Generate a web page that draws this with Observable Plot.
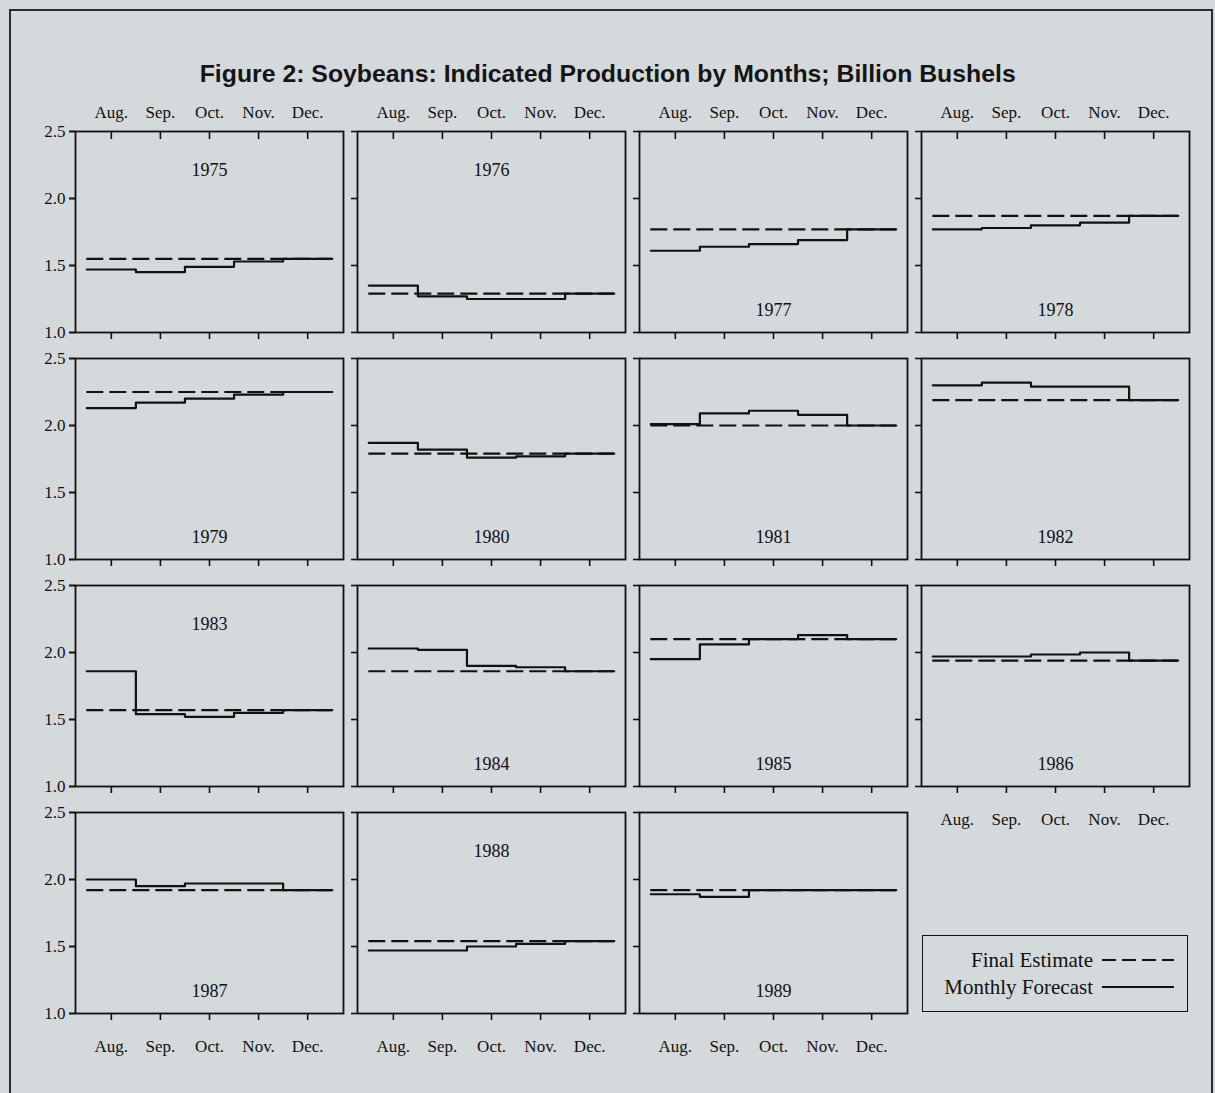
<!DOCTYPE html>
<html>
<head>
<meta charset="utf-8">
<script src="https://cdn.jsdelivr.net/npm/d3@7"></script>
<script src="https://cdn.jsdelivr.net/npm/@observablehq/plot@0.6"></script>
<style>
  html, body { margin: 0; padding: 0; }
  body { width: 1215px; height: 1093px; background: #d4d9dc; position: relative; overflow: hidden; font-family: "Liberation Serif", "Times New Roman", serif; color: #111; }
  #outer { position: absolute; left: 9px; top: 9px; width: 1200px; height: 1120px; border: 2px solid #2b2b2b; border-bottom: none; }
  #title { position: absolute; left: 0; width: 1215px; top: 60px; text-align: center; font-family: "Liberation Sans", Arial, sans-serif; font-weight: bold; font-size: 24px; color: #151515; white-space: nowrap; }
  #title span { display: inline-block; transform-origin: 50% 50%; }
  #chart { position: absolute; left: 0; top: 90px; }
  #legend { position: absolute; left: 922px; top: 935px; width: 266px; height: 77px; border: 1.6px solid #111; box-sizing: border-box; display: flex; flex-direction: column; justify-content: center; align-items: flex-end; padding-right: 13px; gap: 2px; font-size: 21px; }
  #legend .row { display: flex; align-items: center; gap: 9px; line-height: 25px; }
  #legend svg { display: block; }
</style>
</head>
<body>
<div id="outer"></div>
<div id="title">Figure 2: Soybeans: Indicated Production by Months; Billion Bushels</div>
<div id="chart"></div>
<div id="legend">
  <div class="row"><span>Final Estimate</span><svg width="72" height="6"><line x1="0" y1="3" x2="72" y2="3" stroke="#111" stroke-width="2" stroke-dasharray="14,6"></line></svg></div>
  <div class="row"><span>Monthly Forecast</span><svg width="72" height="6"><line x1="0" y1="3" x2="72" y2="3" stroke="#111" stroke-width="2"></line></svg></div>
</div>
<script>
// ---- data (billion bushels) ----
const months = ["Aug.", "Sep.", "Oct.", "Nov.", "Dec."];
const years = [1975, 1976, 1977, 1978, 1979, 1980, 1981, 1982, 1983, 1984, 1985, 1986, 1987, 1988, 1989];
const aug = [1.47, 1.35, 1.61, 1.77, 2.13, 1.87, 2.01, 2.30, 1.86, 2.03, 1.95, 1.97, 2.00, 1.47, 1.89];
const sep = [1.45, 1.27, 1.64, 1.78, 2.17, 1.82, 2.09, 2.32, 1.54, 2.02, 2.06, 1.97, 1.95, 1.47, 1.87];
const oct = [1.49, 1.25, 1.66, 1.80, 2.20, 1.76, 2.11, 2.29, 1.52, 1.90, 2.10, 1.985, 1.97, 1.50, 1.92];
const nov = [1.53, 1.25, 1.69, 1.82, 2.23, 1.77, 2.08, 2.29, 1.55, 1.89, 2.13, 2.00, 1.97, 1.52, 1.92];
const dec = [1.55, 1.29, 1.77, 1.87, 2.25, 1.79, 2.00, 2.19, 1.57, 1.86, 2.10, 1.94, 1.92, 1.54, 1.92];
const finalEstimate = [1.55, 1.29, 1.77, 1.87, 2.25, 1.79, 2.00, 2.19, 1.57, 1.86, 2.10, 1.94, 1.92, 1.54, 1.92];
const yearLabelAt = ["top", "top", "bottom", "bottom", "bottom", "bottom", "bottom", "bottom", "top", "bottom", "bottom", "bottom", "bottom", "top", "bottom"];
const yTicks = [1.0, 1.5, 2.0, 2.5];
const ncol = 4;

// ---- tables built from the arrays ----
const monthly = [aug, sep, oct, nov, dec];
const monthIdx = months.map((m, i) => i);
const forecastRows = [];
years.forEach((yr, j) => {
  const vals = monthly.map(m => m[j]);
  const pts = vals.concat([vals[vals.length - 1]]);
  pts.forEach((v, i) => forecastRows.push({year: yr, col: j % ncol, row: Math.floor(j / ncol), x: i - 0.5, value: v}));
});
const yearRows = years.map((yr, j) => ({
  year: yr, col: j % ncol, row: Math.floor(j / ncol),
  x1: monthIdx[0] - 0.5, x2: monthIdx[monthIdx.length - 1] + 0.5,
  value: finalEstimate[j], pos: yearLabelAt[j]
}));

const blank = () => "";
const chart = Plot.plot({
  width: 1215,
  height: 980,
  marginLeft: 74,
  marginRight: 26,
  marginTop: 41,
  marginBottom: 57,
  style: {background: "transparent", fontFamily: '"Liberation Serif", "Times New Roman", serif', fontSize: "17px", color: "#111", overflow: "visible"},
  fx: {axis: null, paddingInner: 0.05, paddingOuter: 0},
  fy: {axis: null, paddingInner: 0.115, paddingOuter: 0},
  x: {domain: [-0.73, 4.73]},
  y: {domain: [1, 2.5]},
  marks: [
    Plot.frame({stroke: "#111", strokeWidth: 1.8}),
    // y ticks on every panel, labels on the left column
    Plot.axisY({ticks: yTicks, tickSize: 6, tickFormat: blank, facetAnchor: null, label: null, strokeWidth: 1.6}),
    Plot.axisY({ticks: yTicks, tickSize: 6, tickPadding: 4, tickFormat: d3.format(".1f"), facetAnchor: "left", label: null, strokeWidth: 1.6, fontSize: 17}),
    // x ticks below every panel
    Plot.axisX({anchor: "bottom", ticks: monthIdx, tickSize: 7, tickFormat: blank, facetAnchor: null, label: null, strokeWidth: 1.6}),
    // month labels below bottom panels
    Plot.axisX({anchor: "bottom", ticks: monthIdx, tickSize: 0, tickPadding: 26, tickFormat: i => months[i], facetAnchor: "bottom-empty", label: null, fontSize: 17}),
    // top row: inward ticks and month labels
    Plot.axisX({anchor: "top", ticks: monthIdx, tickSize: -7, tickFormat: blank, facetAnchor: "top", label: null, strokeWidth: 1.6}),
    Plot.axisX({anchor: "top", ticks: monthIdx, tickSize: 0, tickPadding: 14, tickFormat: i => months[i], facetAnchor: "top", label: null, fontSize: 17}),
    // final estimate (dashed)
    Plot.ruleY(yearRows, {y: "value", x1: "x1", x2: "x2", fx: "col", fy: "row", stroke: "#111", strokeWidth: 2.2, strokeDasharray: "17,6"}),
    // monthly forecast (step)
    Plot.line(forecastRows, {x: "x", y: "value", z: "year", fx: "col", fy: "row", curve: "step-after", stroke: "#111", strokeWidth: 2.2}),
    // year labels
    Plot.text(yearRows.filter(d => d.pos === "top"), {fx: "col", fy: "row", text: d => String(d.year), frameAnchor: "top", lineAnchor: "middle", dy: 39, fontSize: 18}),
    Plot.text(yearRows.filter(d => d.pos === "bottom"), {fx: "col", fy: "row", text: d => String(d.year), frameAnchor: "bottom", lineAnchor: "middle", dy: -22, fontSize: 18})
  ]
});
document.getElementById("chart").appendChild(chart);

// fit title width to the reference span (condensed heading)
const t = document.getElementById("title");
const span = document.createElement("span");
span.textContent = t.textContent; t.textContent = ""; t.appendChild(span);
const w = span.getBoundingClientRect().width;
span.style.transform = "scaleX(" + (816 / w).toFixed(4) + ")";
</script>
</body>
</html>
